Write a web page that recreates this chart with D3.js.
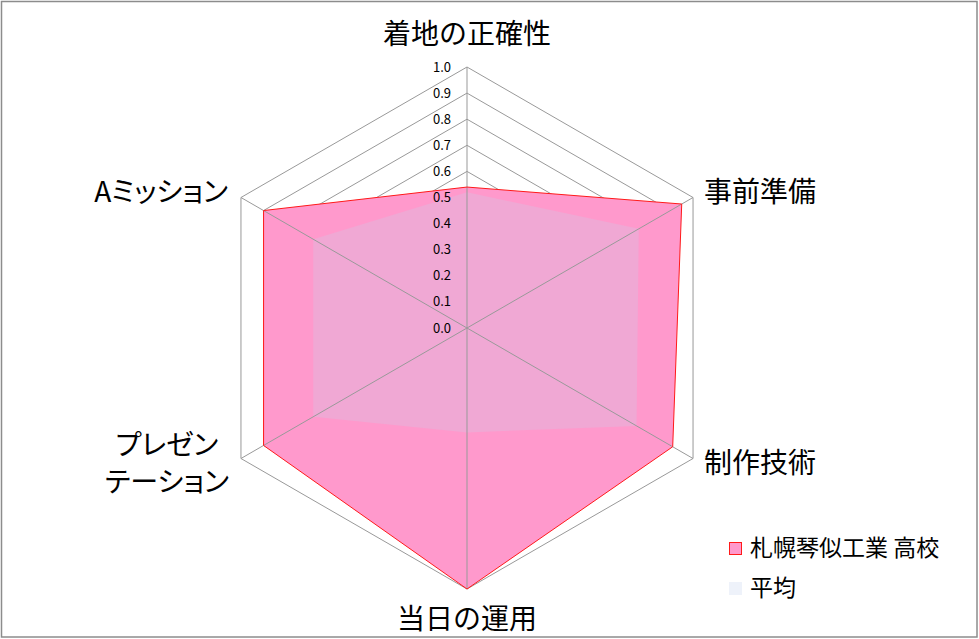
<!DOCTYPE html>
<html>
<head>
<meta charset="UTF-8">
<style>
  body { margin: 0; background: #fff; }
  svg { display: block; }
  text { font-family: "Noto Sans CJK JP", "Noto Sans", sans-serif; fill: #000; }
  .kana { font-feature-settings: "palt"; }
</style>
</head>
<body>
<svg></svg>
<script src="https://d3js.org/d3.v7.min.js"></script>
<script>
// axis labels (clockwise from top)
const categories = ["着地の正確性", "事前準備", "制作技術", "当日の運用", "プレゼン\nテーション", "Aミッション"];
const schoolName = "札幌琴似工業 高校";
const schoolValues = [0.54, 0.95, 0.91, 1.0, 0.90, 0.90];
const avgName = "平均";
const avgValues = [0.52, 0.76, 0.75, 0.40, 0.68, 0.68];
const tickValues = [0, 0.1, 0.2, 0.3, 0.4, 0.5, 0.6, 0.7, 0.8, 0.9, 1.0];

let width = 979, height = 639;
let cx = 467, cy = 328, R = 261;

let svg = d3.select("svg").attr("width", width).attr("height", height);

// border
svg.append("rect")
    .attr("x", 1.5).attr("y", 1.5)
    .attr("width", 975.5).attr("height", 635.5)
    .attr("fill", "#fff").attr("stroke", "#8c8c8c").attr("stroke-width", 1.5);

let r = d3.scaleLinear().domain([0, 1]).range([0, R]);
let n = categories.length;
let angle = i => i * 2 * Math.PI / n;   // 0 = up, clockwise

function pt(i, v) {
    return [cx + r(v) * Math.sin(angle(i)), cy - r(v) * Math.cos(angle(i))];
}
let line = d3.line();

let g = svg.append("g");

// grid rings (behind the fills)
tickValues.slice(1).forEach(t => {
    g.append("path")
        .attr("d", line(d3.range(n).map(i => pt(i, t))) + "Z")
        .attr("fill", "none")
        .attr("stroke", "#999")
        .attr("stroke-width", 1);
});

// school series fill
g.append("path")
    .attr("d", line(schoolValues.map((v, i) => pt(i, v))) + "Z")
    .attr("fill", "#ff99cc");

// average series fill
g.append("path")
    .attr("d", line(avgValues.map((v, i) => pt(i, v))) + "Z")
    .attr("fill", "#f0a8d4");

// spokes
d3.range(n).forEach(i => {
    let p = pt(i, 1);
    g.append("line")
        .attr("x1", cx).attr("y1", cy)
        .attr("x2", p[0]).attr("y2", p[1])
        .attr("stroke", "#999").attr("stroke-width", 1);
});

// school outline
g.append("path")
    .attr("d", line(schoolValues.map((v, i) => pt(i, v))) + "Z")
    .attr("fill", "none")
    .attr("stroke", "#ff1a1a")
    .attr("stroke-width", 1);

// tick labels
g.selectAll(".tick")
    .data(tickValues)
    .enter()
    .append("text")
    .attr("x", cx - 16)
    .attr("y", d => cy - r(d))
    .attr("dy", "0.35em")
    .attr("text-anchor", "end")
    .style("font-size", "13px")
    .text(d => d.toFixed(1));

// category labels
let labelPos = [
    { x: 467, y: 34, anchor: "middle" },
    { x: 704, y: 192, anchor: "start" },
    { x: 704, y: 463, anchor: "start" },
    { x: 467, y: 619, anchor: "middle" },
    { x: 167, y: 445, anchor: "middle" },
    { x: 228, y: 192, anchor: "end" }
];
categories.forEach((c, i) => {
    let lines = c.split("\n");
    let t = svg.append("text")
        .attr("class", /[ァ-ヶー]/.test(c) ? "kana" : null)
        .attr("text-anchor", labelPos[i].anchor)
        .style("font-size", "28px");
    lines.forEach((l, k) => {
        t.append("tspan")
            .attr("x", labelPos[i].x)
            .attr("y", labelPos[i].y + k * 37)
            .attr("dy", "0.35em")
            .text(l);
    });
});

// legend
let legend = svg.append("g").attr("transform", "translate(729,542)");
legend.append("rect")
    .attr("x", 0.5).attr("y", 0.5).attr("width", 12).attr("height", 12)
    .attr("fill", "#ff99cc").attr("stroke", "#ff1a1a").attr("stroke-width", 1);
legend.append("text")
    .attr("x", 21).attr("y", 6).attr("dy", "0.35em")
    .style("font-size", "23px")
    .text(schoolName);
legend.append("rect")
    .attr("x", 0).attr("y", 40).attr("width", 13).attr("height", 13)
    .attr("fill", "#eef2fa");
legend.append("text")
    .attr("x", 21).attr("y", 46).attr("dy", "0.35em")
    .style("font-size", "23px")
    .text(avgName);
</script>
</body>
</html>
